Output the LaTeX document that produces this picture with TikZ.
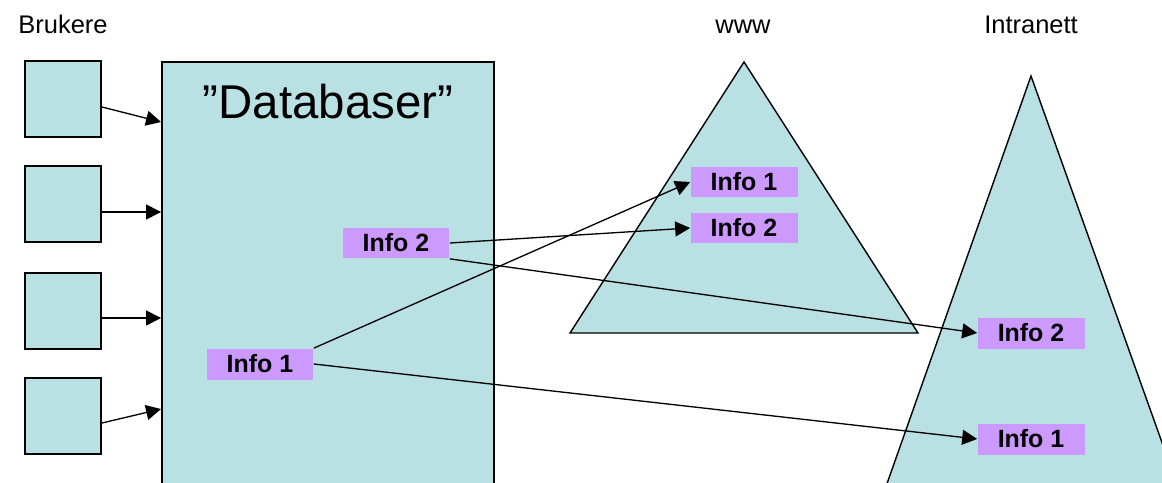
\documentclass[tikz,border=0pt]{standalone}
\usepackage{fontspec}
\setmainfont{Liberation Sans}
\usetikzlibrary{positioning,arrows.meta}
\definecolor{store}{HTML}{B9E0E3}
\definecolor{info}{HTML}{CC99FF}

\begin{document}
\begin{tikzpicture}[x=0.02cm,y=-0.02cm,
  >={Triangle[length=3mm,width=3mm]},
  userbox/.style={draw=black,line width=1.1pt,fill=store,minimum size=1.52cm,inner sep=0pt},
  dbbox/.style={draw=black,line width=1.1pt,fill=store,minimum width=6.64cm,minimum height=9.6cm,inner sep=0pt},
  infobox/.style={fill=info,minimum width=2.14cm,minimum height=0.62cm,inner sep=0pt,
                  font=\fontsize{14.2}{16}\selectfont\bfseries},
  heading/.style={font=\fontsize{14.5}{16}\selectfont,inner sep=0pt,anchor=base},
  net/.style={draw=black,line width=0.8pt,fill=store},
  link/.style={->,line width=0.75pt},
  ]
  \useasboundingbox (0,0) rectangle (1162,483);
  \clip (0,0) rectangle (1162,483);

  % ---- headings ----
  \node[heading] (brukere)   at (63,34)   {Brukere};
  \node[heading] (www)       at (743,34)  {www};
  \node[heading] (intranett) at (1031,34) {Intranett};

  % ---- the two nets ----
  \coordinate (wtop) at (744,62);
  \coordinate (itop) at (1031,76);
  \draw[net] (wtop) -- (918,333) -- (570,333) -- cycle;
  \draw[net] (itop) -- (1204,560) -- (860,560) -- cycle;

  % ---- users and the databases ----
  \foreach \i/\y in {1/99,2/204,3/311,4/416}
    \node[userbox] (u\i) at (63,\y) {};
  \node[dbbox] (db) at (328,61) [anchor=north] {};
  \node[font=\fontsize{27}{30}\selectfont,inner sep=0pt,anchor=base] (dbtitle) at (328,118) {”Databaser”};

  \draw[link] (u1.east |- 0,107) -- (db.west |- 0,122);
  \draw[link] (u2.east |- 0,212) -- (db.west |- 0,212);
  \draw[link] (u3.east |- 0,318) -- (db.west |- 0,318);
  \draw[link] (u4.east |- 0,423) -- (db.west |- 0,409);

  % ---- info items ----
  \node[infobox] (dbinfo2) at (396,243) {Info 2};
  \node[infobox] (dbinfo1) at (260,364) {Info 1};
  \node[infobox] (winfo1)  at (744,182) {Info 1};
  \node[infobox] (winfo2)  at (744,228) {Info 2};
  \node[infobox] (iinfo2)  at (1031,333) {Info 2};
  \node[infobox] (iinfo1)  at (1031,439) {Info 1};

  % publishing to www and intranett
  \draw[link] (dbinfo2.east) -- (winfo2.west);
  \draw[link] (dbinfo2.south east) -- (iinfo2.west);
  \draw[link] (dbinfo1.north east) -- (winfo1.west);
  \draw[link] (dbinfo1.east) -- (iinfo1.west);
\end{tikzpicture}
\end{document}
